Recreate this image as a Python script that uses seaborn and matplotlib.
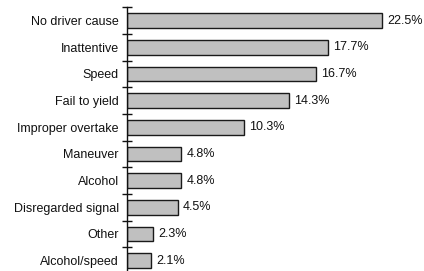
import numpy as np
import pandas as pd
import matplotlib
matplotlib.use('Agg')
import matplotlib.pyplot as plt
import seaborn as sns

causes = ["No driver cause", "Inattentive", "Speed", "Fail to yield", "Improper overtake",
          "Maneuver", "Alcohol", "Disregarded signal", "Other", "Alcohol/speed"]
shares = [22.5, 17.7, 16.7, 14.3, 10.3, 4.8, 4.8, 4.5, 2.3, 2.1]

df = pd.DataFrame({"cause": causes, "share": shares})

sns.set_style("white")
plt.rcParams['font.family'] = ['Liberation Sans', 'DejaVu Sans']

fig = plt.figure(figsize=(4.24, 2.71), dpi=100, facecolor='white')
ax = fig.add_axes([127 / 424, 1 - 274 / 271, 297 / 424, 266.7 / 271])

sns.barplot(data=df, x="share", y="cause", order=causes, color="#c0c0c0",
            edgecolor="#1a1a1a", linewidth=1.0, width=0.55, saturation=1, ax=ax)

for i, v in enumerate(shares):
    ax.text(v + 0.45, i, f"{v}%", va='center', ha='left', fontsize=9, color='#111111')

ax.set_xlim(0, 26.2)
ax.set_ylim(len(causes) - 0.5, -0.5)
ax.set_xlabel("")
ax.set_ylabel("")
ax.set_xticks([])

# labels at bar centres, tick marks at category boundaries
ax.tick_params(axis='y', which='major', left=True, length=0, pad=6, labelsize=9, labelcolor='#111111')
ax.set_yticks(np.arange(len(causes) + 1) - 0.5, minor=True)
ax.tick_params(axis='y', which='minor', left=True, direction='inout', length=7, width=1.0, color='#111111')

for s in ['top', 'right', 'bottom']:
    ax.spines[s].set_visible(False)
ax.spines['left'].set_color('#111111')
ax.spines['left'].set_linewidth(1.0)

fig.savefig("out.png", dpi=100, facecolor='white')
